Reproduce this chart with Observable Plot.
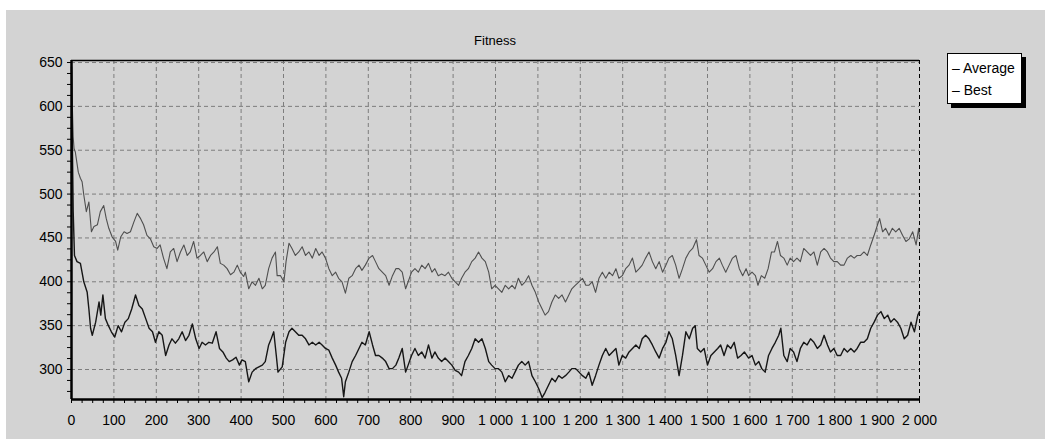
<!DOCTYPE html>
<html>
<head>
<meta charset="utf-8">
<script src="https://cdn.jsdelivr.net/npm/d3@7"></script>
<script src="https://cdn.jsdelivr.net/npm/@observablehq/plot@0.6"></script>
<style>
html, body { margin: 0; padding: 0; background: #ffffff; }
#panel { position: absolute; left: 6px; top: 10px; width: 1039px; height: 429px; background: #d3d3d3; font-family: "Liberation Sans", Arial, sans-serif; overflow: hidden; }
#chart { position: absolute; left: 0; top: 0; }
#title { position: absolute; left: 65px; width: 848px; top: 23px; text-align: center; font-size: 13px; line-height: 16px; color: #000; }
#legend { position: absolute; left: 941px; top: 43px; width: 75px; height: 51px; box-sizing: border-box; background: #fff; border: 1px solid #000; box-shadow: 4px 4px 0 #000; font-size: 14px; line-height: 22px; padding: 3px 0 0 4px; color: #000; white-space: nowrap; }
</style>
</head>
<body>
<div id="panel">
  <div id="chart"></div>
  <div id="title">Fitness</div>
  <div id="legend"><div>– Average</div><div>– Best</div></div>
</div>
<script>
// ---- data ----
const seriesNames = ["Average", "Best"];

const avgGen = [
  0,2,4,6,9,16,21,25,29,35,
  41,47,53,61,68,76,82,88,96,104,
  109,116,124,131,139,147,155,163,170,178,
  186,194,202,209,217,225,233,241,249,257,
  265,273,280,288,296,304,312,320,328,336,
  344,351,359,367,375,383,391,398,406,410,
  418,426,434,442,450,457,465,473,481,485,
  493,501,506,513,520,528,536,544,552,560,
  568,576,584,591,599,607,615,623,630,638,
  646,654,662,670,678,685,693,702,710,717,
  725,733,741,749,757,765,772,780,788,794,
  802,810,818,826,834,842,850,857,865,873,
  881,889,897,905,913,920,928,936,944,952,
  960,968,976,984,991,999,1007,1015,1023,1031,
  1039,1046,1054,1062,1070,1078,1086,1094,1102,1110,
  1117,1125,1133,1141,1149,1157,1165,1173,1180,1188,
  1197,1205,1213,1220,1228,1236,1244,1252,1260,1268,
  1276,1284,1291,1299,1307,1315,1323,1331,1339,1346,
  1354,1362,1370,1378,1386,1394,1402,1409,1417,1425,
  1433,1441,1449,1457,1465,1474,1480,1488,1496,1504,
  1512,1520,1528,1535,1543,1551,1559,1567,1575,1583,
  1591,1597,1605,1613,1619,1627,1635,1643,1651,1658,
  1665,1672,1680,1688,1695,1703,1711,1719,1727,1735,
  1743,1751,1759,1767,1775,1783,1790,1798,1806,1814,
  1822,1830,1838,1846,1853,1861,1869,1877,1885,1893,
  1901,1906,1913,1920,1928,1936,1944,1952,1960,1968,
  1976,1984,1992,1998,2000
];
const avgFit = [
  650,600,565,552,548,525,518,514,499,480,
  491,457,463,465,480,487,472,461,451,446,
  436,451,457,455,457,468,478,472,465,453,
  449,440,438,442,427,415,434,438,423,434,
  442,430,434,446,427,430,434,423,430,434,
  440,421,419,415,408,411,419,411,406,411,
  392,400,396,404,392,396,415,427,434,407,
  407,400,423,444,438,430,434,440,430,434,
  427,438,430,434,427,415,407,411,404,400,
  387,404,407,415,419,413,419,427,430,423,
  415,411,407,396,407,415,415,411,392,400,
  411,415,411,419,415,421,411,415,407,409,
  407,411,404,400,396,404,411,415,423,427,
  434,427,423,411,392,396,392,388,396,392,
  396,392,404,396,400,407,396,388,377,369,
  362,366,377,385,381,385,377,385,392,396,
  400,404,396,396,400,388,404,411,404,411,
  407,415,404,407,415,419,427,411,415,419,
  427,434,423,415,423,411,419,427,430,419,
  404,415,427,434,438,448,430,427,419,411,
  415,423,427,419,411,419,427,430,415,407,
  415,407,411,407,396,407,404,415,434,434,
  446,430,427,419,427,423,427,423,438,434,
  430,434,419,434,438,434,427,423,423,419,
  419,427,430,427,430,430,434,430,442,453,
  465,472,457,461,453,461,457,461,453,446,
  449,457,442,461,450
];

const bestGen = [
  0,2,4,7,13,21,29,37,41,45,
  49,57,65,69,74,80,87,94,102,110,
  118,126,134,142,151,159,167,175,183,191,
  198,206,214,222,230,237,245,253,261,269,
  277,285,293,301,308,316,324,332,341,349,
  357,365,372,380,388,396,402,410,418,426,
  434,442,450,457,465,471,477,483,487,497,
  505,513,520,528,536,544,552,560,568,576,
  584,591,599,607,615,623,630,637,642,646,
  654,662,670,678,685,693,702,710,717,725,
  733,741,749,757,765,772,780,788,794,802,
  810,818,826,834,842,850,857,865,873,881,
  889,897,905,913,920,928,936,944,952,960,
  968,976,984,991,999,1007,1015,1023,1031,1039,
  1046,1054,1062,1070,1078,1086,1094,1102,1110,1117,
  1125,1133,1141,1149,1157,1165,1173,1180,1189,1197,
  1205,1213,1220,1228,1236,1244,1252,1260,1268,1276,
  1284,1291,1299,1307,1315,1323,1331,1339,1346,1354,
  1362,1370,1378,1386,1394,1402,1409,1417,1425,1433,
  1441,1449,1457,1465,1471,1476,1484,1492,1500,1508,
  1516,1524,1531,1539,1547,1555,1563,1571,1579,1587,
  1597,1605,1613,1621,1628,1636,1644,1652,1660,1668,
  1673,1680,1688,1695,1703,1711,1719,1727,1735,1743,
  1751,1759,1767,1775,1783,1790,1798,1806,1814,1822,
  1830,1838,1846,1853,1861,1869,1877,1885,1893,1901,
  1909,1917,1925,1932,1940,1948,1956,1964,1972,1980,
  1988,1996,2000
];
const bestFit = [
  645,560,480,430,423,421,400,388,369,347,
  339,354,377,362,385,358,350,343,337,350,
  343,354,358,369,385,373,369,358,347,343,
  331,343,339,316,328,335,330,335,343,333,
  339,352,335,324,331,328,331,330,343,324,
  320,313,309,311,314,305,311,309,286,297,
  301,303,305,309,328,335,343,316,297,303,
  331,343,347,343,339,339,335,328,331,328,
  331,328,324,322,313,305,297,290,269,286,
  297,309,316,324,331,328,343,328,316,316,
  313,309,301,301,305,313,324,297,305,316,
  324,316,320,313,328,313,320,313,309,313,
  309,305,299,297,293,309,316,324,335,331,
  335,324,309,305,301,301,297,286,293,290,
  297,305,309,305,309,293,286,278,268,274,
  282,290,286,293,290,293,297,301,301,297,
  293,290,297,282,293,305,316,324,316,320,
  324,305,316,313,320,324,328,324,335,339,
  335,328,320,313,324,331,343,335,316,293,
  316,343,335,347,350,324,320,324,305,316,
  320,324,328,316,328,324,331,313,316,320,
  313,316,305,309,301,297,316,324,331,339,
  347,316,309,324,320,309,324,331,328,335,
  331,324,328,339,328,320,324,316,316,324,
  320,324,320,324,331,331,335,347,354,362,
  366,358,362,354,358,354,347,335,339,354,
  343,362,366
];

// axis values
const xDomain = [0, 2000];
const yDomain = [265.8, 652.3];
const xMajor = d3.range(0, 2001, 100);
const xTicks = d3.range(0, 2001, 25);
const yMajor = d3.range(300, 651, 50);
const yTicks = d3.range(275, 651, 12.5);

// ---- build ----
const avgData = avgGen.map((g, i) => ({gen: g, fit: avgFit[i], series: seriesNames[0]}));
const bestData = bestGen.map((g, i) => ({gen: g, fit: bestFit[i], series: seriesNames[1]}));
const thousands = d3.formatLocale({decimal: ".", thousands: " ", grouping: [3], currency: ["", ""]}).format(",");

const chart = Plot.plot({
  width: 1039,
  height: 429,
  marginLeft: 65,
  marginRight: 126,
  marginTop: 50,
  marginBottom: 40,
  style: {background: "transparent", fontSize: "14px", fontFamily: "'Liberation Sans', Arial, sans-serif", color: "#000"},
  x: {domain: xDomain, ticks: xTicks, tickSize: 4, tickPadding: 12, label: null,
      tickFormat: d => (d % 100 === 0 ? thousands(d) : "")},
  y: {domain: yDomain, ticks: yTicks, tickSize: 4, tickPadding: 5, label: null,
      tickFormat: d => (d % 50 === 0 ? String(d) : "")},
  marks: [
    Plot.ruleY(yMajor, {stroke: "#7d7d7d", strokeDasharray: "4,3", strokeWidth: 1}),
    Plot.ruleX(xMajor.filter(d => d > xDomain[0] && d < xDomain[1]), {stroke: "#7d7d7d", strokeDasharray: "4,3", strokeWidth: 1}),
    Plot.ruleX([xDomain[1]], {stroke: "#000", strokeDasharray: "4,3", strokeWidth: 1}),
    Plot.ruleY([yDomain[1]], {stroke: "#000", strokeWidth: 1.5}),
    Plot.line(avgData, {x: "gen", y: "fit", stroke: "#4f4f4f", strokeWidth: 1.1}),
    Plot.line(bestData, {x: "gen", y: "fit", stroke: "#161616", strokeWidth: 1.4}),
    Plot.ruleX([xDomain[0]], {stroke: "#000", strokeWidth: 2.5}),
    Plot.ruleY([yDomain[0]], {stroke: "#000", strokeWidth: 2.5})
  ]
});
document.getElementById("chart").appendChild(chart);
</script>
</body>
</html>
